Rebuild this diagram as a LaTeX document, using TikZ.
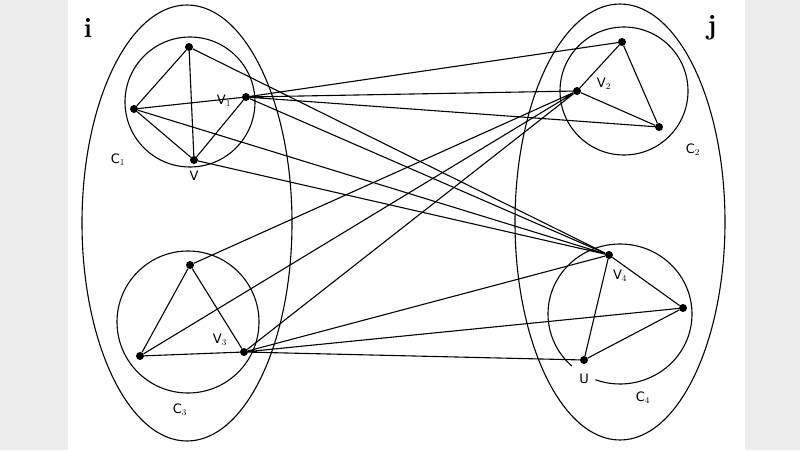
\documentclass[tikz,border=0pt]{standalone}
\usepackage{fontspec}
\setsansfont{DejaVu Sans}
\begin{document}
\begin{tikzpicture}[x=1pt,y=-1pt,
  dot/.style={circle,fill=black,inner sep=0pt,minimum size=8pt},
  lab/.style={font=\sffamily\fontsize{13}{13}\selectfont,inner sep=0pt},
  big/.style={font=\bfseries\fontsize{28}{28}\selectfont,inner sep=0pt},
  edge/.style={line width=1.1pt},
  ring/.style={line width=1.1pt}]
\useasboundingbox (0,0) rectangle (800,450);
\fill[black!7] (0,0) rectangle (800,450);
\fill[white] (68,0) rectangle (745,450);
% groups
\draw[ring] (187,223) ellipse [x radius=105, y radius=218];
\draw[ring] (620,222) ellipse [x radius=105, y radius=218];
\draw[ring] (190,102) circle (65);
\draw[ring] (624,91) circle (64);
\draw[ring] (188,322) circle (71);
\draw[ring] ([shift={(132:72 and 70)}]620,314) arc[start angle=132, end angle=470, x radius=72, y radius=70];
% nodes
\node[dot] (a) at (189,47) {};
\node[dot] (b) at (134,109) {};
\node[dot] (v1) at (246,97) {};
\node[dot] (v) at (194,160) {};
\node[dot] (c) at (622,42) {};
\node[dot] (v2) at (577,91) {};
\node[dot] (d) at (659,127) {};
\node[dot] (e) at (190,265) {};
\node[dot] (f) at (140,356) {};
\node[dot] (v3) at (244,352) {};
\node[dot] (v4) at (609,255) {};
\node[dot] (g) at (683,308) {};
\node[dot] (u) at (584,360) {};
% intra edges
\draw[edge] (a)--(b) (a)--(v) (b)--(v1) (b)--(v) (v)--(v1);
\draw[edge] (c)--(v2) (c)--(d) (v2)--(d);
\draw[edge] (e)--(f) (e)--(v3) (f)--(v3);
\draw[edge] (v4)--(g) (v4)--(u) (u)--(g);
% inter edges
\draw[edge] (v1)--(c) (v1)--(v2) (v1)--(d) (v1)--(v4);
\draw[edge] (a)--(v4) (b)--(v4) (v)--(v4);
\draw[edge] (e)--(v2) (f)--(v2) (v3)--(v2);
\draw[edge] (v3)--(v4) (v3)--(g) (v3)--(u);
% labels
\node[big] (li) at (88,28) {i};
\node[big] (lj) at (712,28) {j};
\node[lab] (lc1) at (118,160) {C$_1$};
\node[lab] (lc2) at (693,150) {C$_2$};
\node[lab] (lc3) at (180,410) {C$_3$};
\node[lab] (lc4) at (643,398) {C$_4$};
\node[lab] (lv1) at (224,101) {V$_1$};
\node[lab] (lv) at (194,176) {V};
\node[lab] (lv2) at (604,84) {V$_2$};
\node[lab] (lv3) at (220,340) {V$_3$};
\node[lab] (lv4) at (620,276) {V$_4$};
\node[lab] (lu) at (584,379) {U};
\end{tikzpicture}
\end{document}
